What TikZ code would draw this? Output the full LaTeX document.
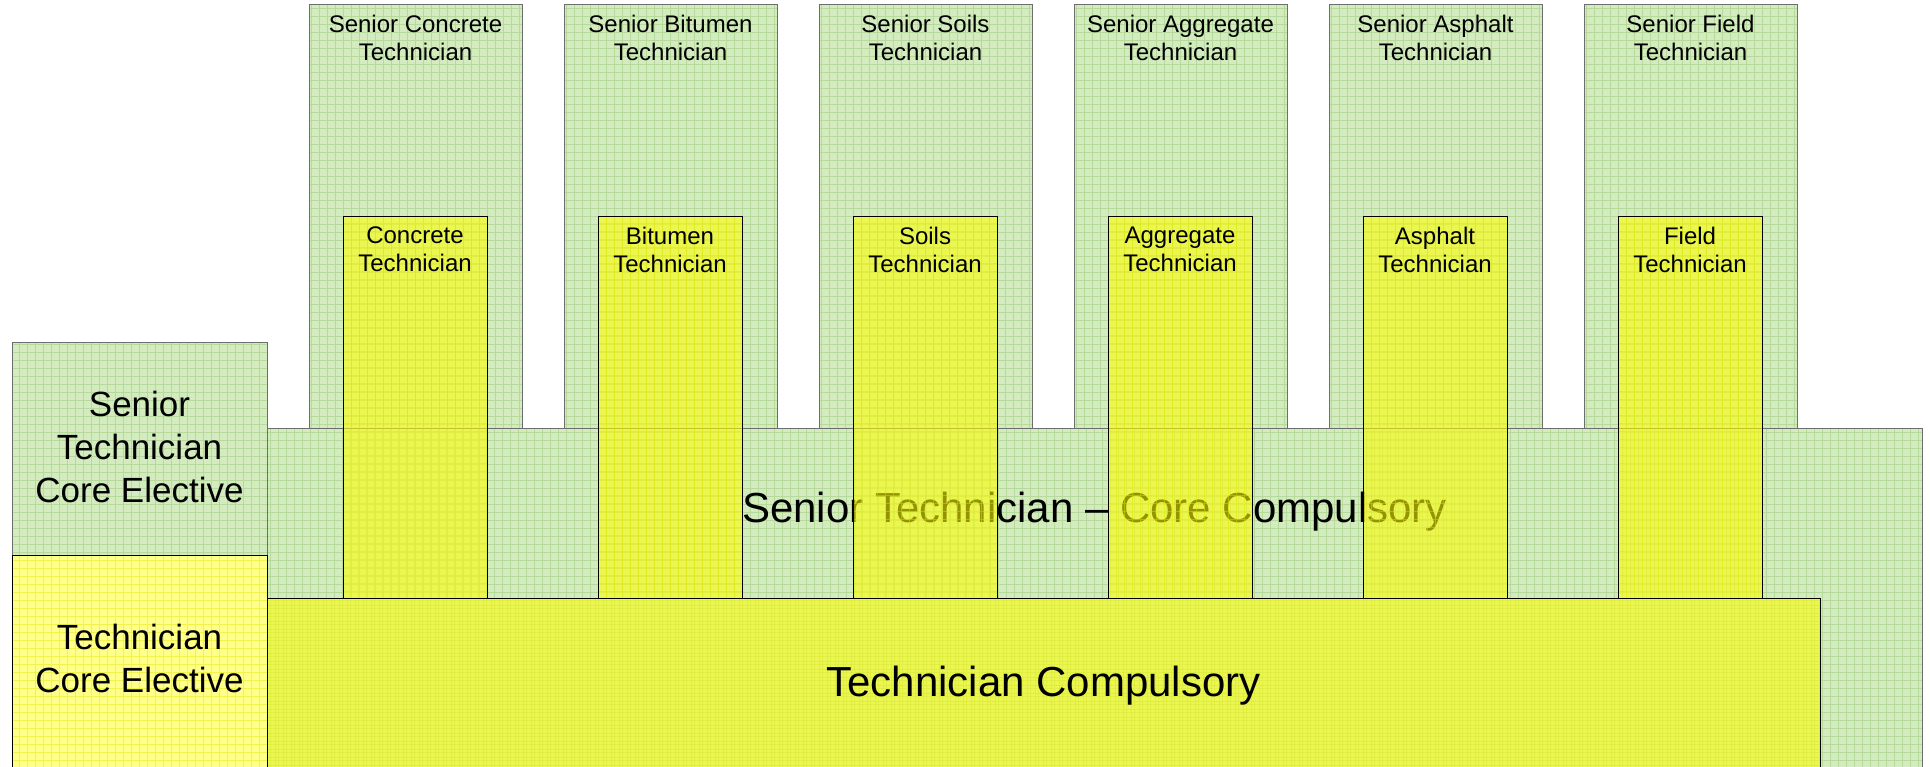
\documentclass[tikz,border=0pt]{standalone}
\usepackage{fontspec}
\setmainfont{Liberation Sans}
\definecolor{gbase}{HTML}{D3EBBF}
\definecolor{gline}{HTML}{B6DA9C}
\definecolor{gborder}{HTML}{6E6E6E}
\definecolor{ybase}{HTML}{FFFF00}
\definecolor{yline}{HTML}{E2E200}
\tikzset{
  gridfill/.style={path picture={\draw[#1, line width=1pt]
      ([shift={(-16pt,-16pt)}]path picture bounding box.south west) grid[step=8pt]
      ([shift={(16pt,16pt)}]path picture bounding box.north east);}},
  greenbox/.style={draw=gborder, line width=1pt, fill=gbase, inner sep=0pt, outer sep=0pt,
      anchor=north west, gridfill=gline},
  yellowbox/.style={draw=black, line width=1pt, fill=ybase, fill opacity=0.58, draw opacity=1,
      inner sep=0pt, outer sep=0pt, anchor=north west,
      path picture={\draw[yline, line width=1pt, draw opacity=0.45]
      ([shift={(-16pt,-16pt)}]path picture bounding box.south west) grid[step=8pt]
      ([shift={(16pt,16pt)}]path picture bounding box.north east);}},
  smalltext/.style={font=\fontsize{24}{28}\selectfont, align=center, inner sep=0pt, anchor=north, text=black},
  midtext/.style={font=\fontsize{35}{43}\selectfont, align=center, inner sep=0pt, text=black},
  bigtext/.style={font=\fontsize{42}{48}\selectfont, inner sep=0pt, anchor=base, text=black},
}
\begin{document}
\begin{tikzpicture}[x=1pt, y=-1pt]
\useasboundingbox (0,0) rectangle (1930,767);
\clip (0,0) rectangle (1930,767);
% senior specialist boxes
\foreach \i/\nm/\lab in {0/conc/Concrete, 1/bit/Bitumen, 2/soil/Soils, 3/agg/Aggregate, 4/asph/Asphalt, 5/field/Field}{
  \node[greenbox, minimum width=213pt, minimum height=423pt] (s\nm) at ({309+255*\i},5) {};
  \node[smalltext] (ts\nm) at ([yshift=-9.5pt]s\nm.north) {Senior \lab\\Technician};
}
% senior core compulsory
\node[greenbox, minimum width=1655pt, minimum height=345pt] (score) at (267,428) {};
\node[greenbox, minimum width=255pt, minimum height=213pt] (select) at (12,342) {};
\node[midtext] (tselect) at (139.5,447) {Senior\\Technician\\Core Elective};
\node[bigtext] (tscore) at (1094.5,522) {Senior Technician – Core Compulsory};
% technician boxes
\foreach \i/\nm/\lab in {0/conc/Concrete, 1/bit/Bitumen, 2/soil/Soils, 3/agg/Aggregate, 4/asph/Asphalt, 5/field/Field}{
  \node[yellowbox, minimum width=144pt, minimum height=381pt] (\nm) at ({343+255*\i},217) {};
  \node[smalltext] (t\nm) at ([yshift=-9.5pt]\nm.north) {\lab\\Technician};
}
\node[yellowbox, minimum width=1553pt, minimum height=175pt] (tcomp) at (267,598) {};
\node[yellowbox, fill opacity=0.45, minimum width=255pt, minimum height=218pt] (telect) at (12,555) {};
\node[midtext] (ttelect) at (139.5,658) {Technician\\Core Elective};
\node[bigtext] (ttcomp) at (1043.5,696) {Technician Compulsory};
\end{tikzpicture}
\end{document}
